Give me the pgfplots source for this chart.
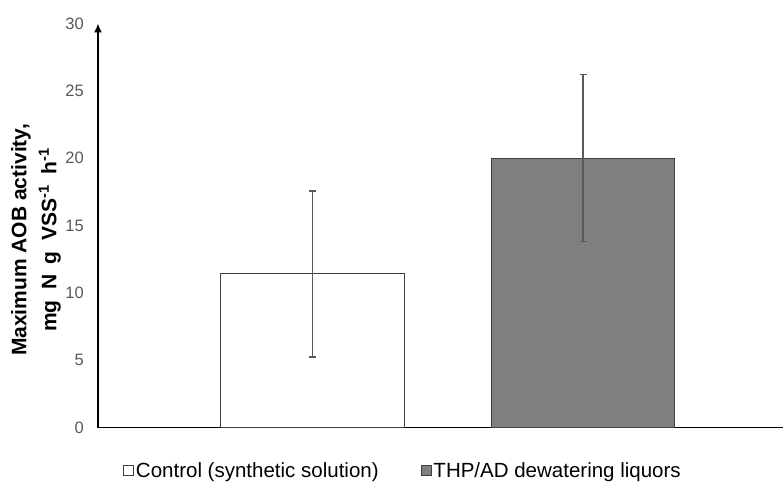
\documentclass[border=0pt]{standalone}
\usepackage{fontspec}
\setmainfont{Liberation Sans}
\usepackage{pgfplots}
\pgfplotsset{compat=1.18}
\usetikzlibrary{arrows.meta}
\definecolor{tickgray}{HTML}{595959}
\definecolor{edgegray}{HTML}{404040}
\definecolor{barfill}{HTML}{7F7F7F}
\definecolor{errgray}{HTML}{5A5A5A}

\begin{document}
\begin{tikzpicture}
\useasboundingbox (-98bp,-58.5bp) rectangle (685bp,427.5bp);
\begin{axis}[
    scale only axis,
    width=685bp, height=404bp,
    xmin=0.207, xmax=2.739,
    ymin=0, ymax=30,
    ytick distance=5,
    xtick=\empty,
    axis x line=bottom,
    axis y line=left,
    x axis line style={-, line width=1.5bp, black},
    y axis line style={-{Latex[length=9bp,width=8bp]}, line width=1.5bp, black},
    major tick length=0pt,
    /pgf/number format/assume math mode=true,
    yticklabel style={font=\fontsize{16.5bp}{19bp}\selectfont, text=tickgray, inner sep=0pt, xshift=-14bp},
    ybar, bar shift=0pt, bar width=0.678,
    ylabel={Maximum AOB activity,\\mg\hspace{0.5em}N\hspace{0.5em}g\hspace{0.5em}VSS\textsuperscript{-1}\hspace{0.5em}h\textsuperscript{-1}},
    ylabel style={at={(axis description cs:-0.127,0.464)}, anchor=north, rotate=0,
        align=center, inner sep=0pt, font=\fontsize{21bp}{30bp}\selectfont\bfseries},
    legend columns=2,
    legend style={at={(axis description cs:0.0365,-0.106)}, anchor=west,
        draw=none, fill=none, inner xsep=0pt, inner ysep=0pt,
        nodes={inner sep=2bp}, font=\fontsize{20.5bp}{24bp}\selectfont,
        /tikz/every even column/.append style={column sep=40bp}},
    legend image code/.code={\draw[#1, line width=0.8bp] (0bp,-5bp) rectangle (10bp,5bp);},
]
\addplot[fill=white, draw=edgegray, line width=1bp,
    error bars/.cd, y dir=both, y explicit,
    error bar style={errgray, line width=1.5bp},
    error mark options={rotate=90, errgray, mark size=3.5bp, line width=1.5bp}]
    coordinates {(1, 11.4) +- (0, 6.15)};
\addlegendentry{Control (synthetic solution)}

\addplot[fill=barfill, draw=edgegray, line width=1bp,
    error bars/.cd, y dir=both, y explicit,
    error bar style={errgray, line width=1.2bp},
    error mark options={rotate=90, errgray, mark size=3.5bp, line width=1.2bp}]
    coordinates {(2, 20.0) +- (0, 6.2)};
\addlegendentry{THP/AD dewatering liquors}
\end{axis}
\end{tikzpicture}
\end{document}
